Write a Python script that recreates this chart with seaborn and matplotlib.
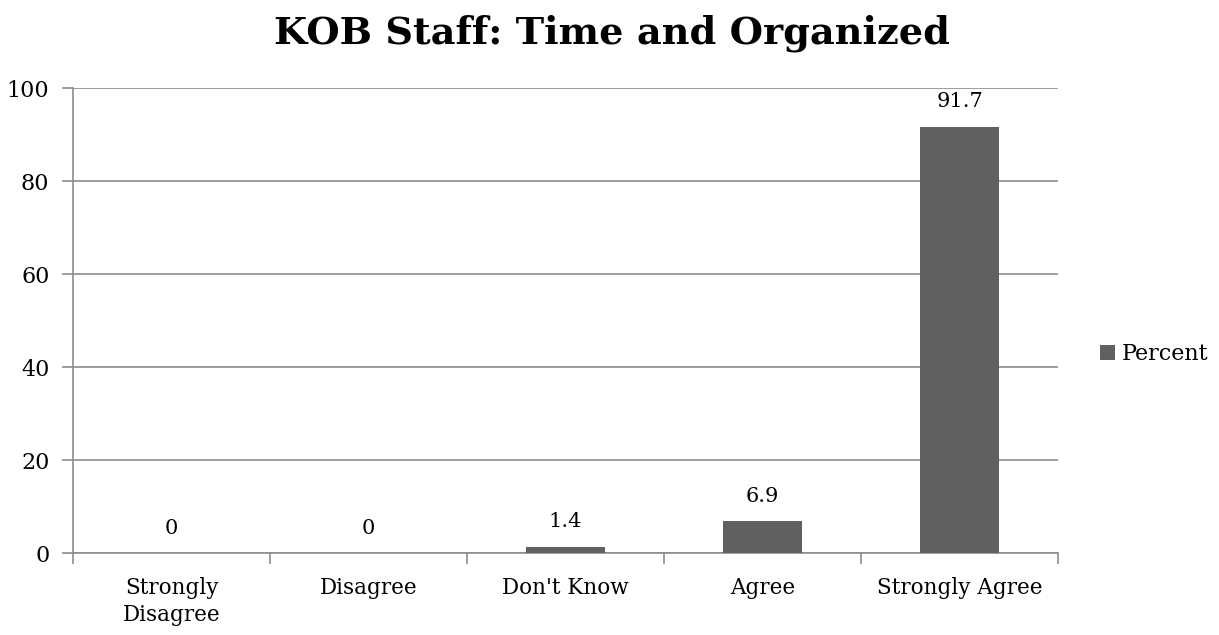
import matplotlib
matplotlib.use("Agg")
import matplotlib.pyplot as plt
import seaborn as sns
import pandas as pd
import numpy as np

categories = ["Strongly\nDisagree", "Disagree", "Don't Know", "Agree", "Strongly Agree"]
percent = [0, 0, 1.4, 6.9, 91.7]
value_labels = ["0", "0", "1.4", "6.9", "91.7"]
y_ticks = [0, 20, 40, 60, 80, 100]

sns.set_theme(style="white")
plt.rcParams["font.family"] = ["DejaVu Serif"]
plt.rcParams["text.color"] = "black"
plt.rcParams["xtick.color"] = "black"
plt.rcParams["ytick.color"] = "black"

df = pd.DataFrame({"Category": categories, "Percent": percent})

fig = plt.figure(figsize=(12.19, 6.35), dpi=100)
ax = fig.add_axes([0.0599, 0.1291, 0.8081, 0.7323])

bar_color = "#606060"
grid_color = "#8c8c8c"

sns.barplot(data=df, x="Category", y="Percent", color=bar_color, width=0.4,
            saturation=1, ax=ax, label="Percent", linewidth=0, zorder=3)

ax.set_ylim(0, 100)
ax.set_xlim(-0.5, len(categories) - 0.5)
ax.set_yticks(y_ticks)
ax.set_yticklabels([str(t) for t in y_ticks], fontsize=16)
ax.yaxis.grid(True, color=grid_color, linewidth=1.2, zorder=0)
ax.set_axisbelow(True)

ax.set_xticks(range(len(categories)))
ax.set_xticklabels(categories, fontsize=15.5, linespacing=1.3)
ax.set_xticks(np.arange(-0.5, len(categories)), minor=True)
ax.tick_params(axis="x", which="major", length=0, pad=17)
ax.tick_params(axis="x", which="minor", length=8, width=1.2, color=grid_color,
               direction="out", bottom=True)
ax.tick_params(axis="y", length=8, width=1.2, color=grid_color, direction="out",
               left=True, pad=9)

for side in ["top", "right"]:
    ax.spines[side].set_visible(False)
for side in ["left", "bottom"]:
    ax.spines[side].set_color(grid_color)
    ax.spines[side].set_linewidth(1.2)

ax.set_xlabel("")
ax.set_ylabel("")

ax.bar_label(ax.containers[0], labels=value_labels, padding=11, fontsize=15)

fig.suptitle("KOB Staff: Time and Organized", x=0.502, y=1 - 43 / 635, va="baseline",
             fontsize=27.5, fontweight="bold")

ax.legend(loc="center left", bbox_to_anchor=(1100 / 1219, 1 - 354 / 635),
          bbox_transform=fig.transFigure, frameon=False, borderaxespad=0, borderpad=0,
          fontsize=16, handlelength=0.68, handleheight=0.68, handletextpad=0.3)

fig.savefig("out.png", dpi=100)
